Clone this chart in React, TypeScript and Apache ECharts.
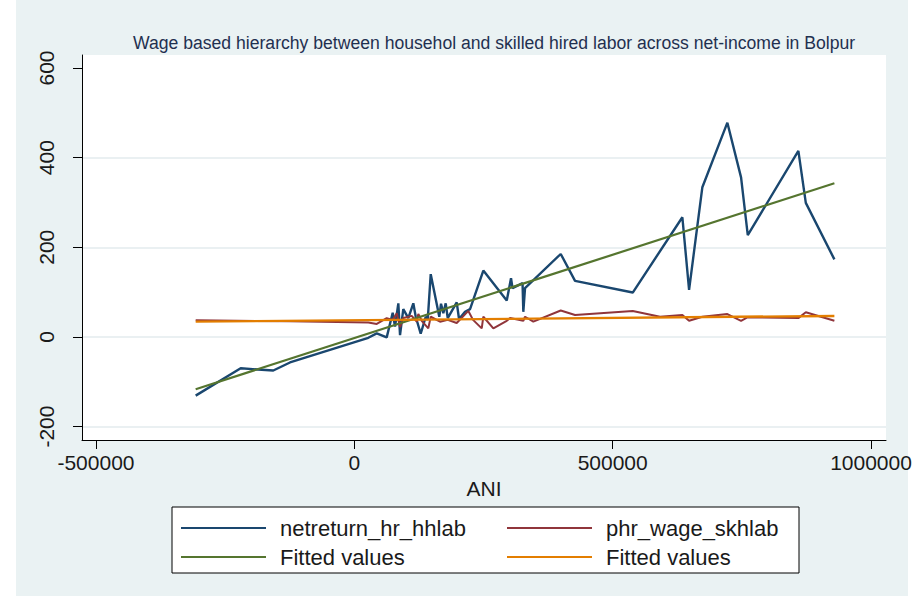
import React, { useEffect, useRef } from "react";
import * as echarts from "echarts";

const titleText =
  "Wage based hierarchy between househol and skilled hired labor across net-income in Bolpur";
const xAxisTitle = "ANI";
const xTicks = [-500000, 0, 500000, 1000000];
const yTicks = [-200, 0, 200, 400, 600];
const legendLabels: Record<string, string> = {
  hh: "netreturn_hr_hhlab",
  sk: "phr_wage_skhlab",
  fitHh: "Fitted values",
  fitSk: "Fitted values",
};

// netreturn_hr_hhlab (sorted by ANI)
const hhX = [
  -307000, -219900, -156800, -124500, 27100, 43400, 62700, 74300, 78800, 85200,
  88500, 94800, 104500, 114200, 118900, 128500, 138200, 142100, 147900, 164500,
  167800, 172300, 176900, 180800, 198200, 202700, 214300, 224000, 249700, 295000,
  303300, 306200, 325600, 327100, 330400, 399500, 427200, 538900, 634900, 647900,
  673600, 722000, 748500, 761500, 859400, 873800, 929100,
];
const hhY = [
  -131, -70, -75, -57, -2, 8, -1, 54, 23, 75,
  4, 62, 42, 75, 45, 7, 45, 38, 140, 45,
  74, 53, 75, 42, 77, 40, 56, 62, 148, 81,
  131, 109, 120, 56, 109, 185, 125, 99, 267, 105,
  334, 478, 356, 227, 415, 299, 173,
];

// phr_wage_skhlab (sorted by ANI)
const skX = [
  -307000, -124500, 27100, 43400, 62700, 74300, 82100, 88500, 94800, 111100,
  120800, 123900, 130500, 143200, 147900, 165900, 180800, 198200, 220700, 229800,
  246600, 249700, 269100, 295000, 301400, 327100, 330400, 346500, 399500, 427200,
  538900, 591700, 634900, 647900, 673600, 722000, 748500, 761500, 859400, 873800,
  929100,
];
const skY = [
  37, 35, 32, 29, 42, 38, 53, 22, 42, 47,
  34, 51, 36, 19, 45, 34, 38, 31, 58, 38,
  19, 45, 19, 36, 42, 36, 45, 34, 59, 49,
  58, 45, 49, 36, 45, 51, 36, 44, 42, 55,
  36,
];

// Fitted values (linear fits), at the ends of the ANI range
const fitX = [-307000, 929100];
const fitHhY = [-116.6, 342.8];
const fitSkY = [34.1, 46.8];

const FONT = "'Liberation Sans', Arial, Helvetica, sans-serif";
const COLORS = {
  hh: "#1a476f",
  sk: "#90353b",
  fitHh: "#55752f",
  fitSk: "#e37e00",
};

function pairs(xs: number[], ys: number[]) {
  return xs.map((x, i) => [x, ys[i]]);
}

export default function App() {
  const ref = useRef<HTMLDivElement>(null);

  useEffect(() => {
    if (!ref.current) return;
    const chart = echarts.init(ref.current, undefined, { renderer: "svg" });

    const legendCommon = {
      orient: "horizontal" as const,
      padding: 0,
      icon: "rect",
      itemWidth: 85,
      itemHeight: 2,
      selectedMode: false,
      formatter: (name: string) => legendLabels[name] ?? name,
      textStyle: {
        fontFamily: FONT,
        fontSize: 22,
        lineHeight: 24,
        color: "#1a1a1a",
        padding: [0, 0, 0, 9],
      },
    };

    chart.setOption({
      animation: false,
      backgroundColor: "#ffffff",
      title: {
        text: titleText,
        left: 128,
        top: 29,
        textStyle: {
          fontFamily: FONT,
          fontSize: 17.6,
          fontWeight: "normal",
          color: "#1f3050",
        },
      },
      graphic: [
        {
          type: "rect",
          z: -10,
          silent: true,
          shape: { x: 16, y: 0, width: 892, height: 596 },
          style: { fill: "#eaf2f3" },
        },
        {
          type: "rect",
          z: 1,
          silent: true,
          shape: { x: 172, y: 507, width: 627, height: 66 },
          style: { fill: "#ffffff", stroke: "#000000", lineWidth: 1 },
        },
      ],
      legend: [
        { ...legendCommon, data: ["hh"], left: 181, top: 516 },
        { ...legendCommon, data: ["sk"], left: 507, top: 516 },
        { ...legendCommon, data: ["fitHh"], left: 181, top: 545 },
        { ...legendCommon, data: ["fitSk"], left: 507, top: 545 },
      ],
      grid: {
        left: 82,
        top: 55,
        width: 804,
        height: 385,
        show: true,
        backgroundColor: "#ffffff",
        borderWidth: 0,
        containLabel: false,
      },
      xAxis: {
        type: "value",
        min: -527000,
        max: 1029000,
        name: xAxisTitle,
        nameLocation: "middle",
        nameGap: 32,
        nameTextStyle: { fontFamily: FONT, fontSize: 21, color: "#1a1a1a" },
        axisLine: { show: true, onZero: false, lineStyle: { color: "#000", width: 1 } },
        axisTick: { show: true, length: 9, customValues: xTicks, lineStyle: { color: "#000" } },
        axisLabel: {
          customValues: xTicks,
          formatter: (v: number) => String(v),
          fontFamily: FONT,
          fontSize: 21,
          color: "#1a1a1a",
          margin: 12,
          showMinLabel: true,
          showMaxLabel: true,
        },
        splitLine: { show: false },
      },
      yAxis: {
        type: "value",
        min: -230,
        max: 629,
        axisLine: { show: true, onZero: false, lineStyle: { color: "#000", width: 1 } },
        axisTick: { show: true, length: 9, customValues: yTicks, lineStyle: { color: "#000" } },
        axisLabel: {
          customValues: yTicks,
          rotate: 90,
          formatter: (v: number) => String(v),
          fontFamily: FONT,
          fontSize: 21,
          color: "#1a1a1a",
          margin: 25,
        },
        splitLine: {
          show: true,
          lineStyle: {
            color: ["#e3ebee", "#e3ebee", "#e3ebee", "#e3ebee", "rgba(0,0,0,0)"],
            width: 1.5,
          },
        },
      },
      series: [
        {
          name: "hh",
          type: "line",
          data: pairs(hhX, hhY),
          symbol: "none",
          lineStyle: { color: COLORS.hh, width: 2.4 },
          itemStyle: { color: COLORS.hh },
          z: 2,
        },
        {
          name: "sk",
          type: "line",
          data: pairs(skX, skY),
          symbol: "none",
          lineStyle: { color: COLORS.sk, width: 2 },
          itemStyle: { color: COLORS.sk },
          z: 3,
        },
        {
          name: "fitHh",
          type: "line",
          data: pairs(fitX, fitHhY),
          symbol: "none",
          lineStyle: { color: COLORS.fitHh, width: 2.2 },
          itemStyle: { color: COLORS.fitHh },
          z: 4,
        },
        {
          name: "fitSk",
          type: "line",
          data: pairs(fitX, fitSkY),
          symbol: "none",
          lineStyle: { color: COLORS.fitSk, width: 2.4 },
          itemStyle: { color: COLORS.fitSk },
          z: 5,
        },
      ],
    });

    return () => chart.dispose();
  }, []);

  return (
    <div
      ref={ref}
      style={{ position: "absolute", left: 0, top: 0, width: 919, height: 596 }}
    />
  );
}
